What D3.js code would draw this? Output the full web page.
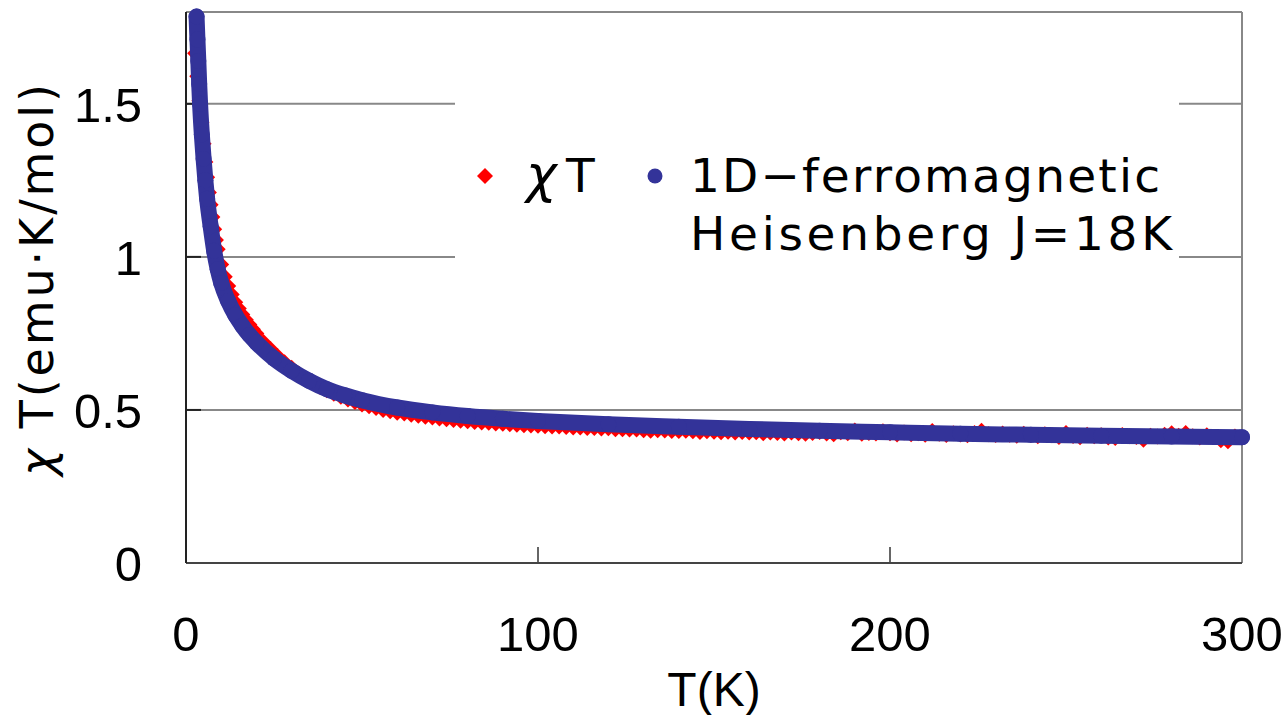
<!DOCTYPE html>
<html>
<head>
<meta charset="utf-8">
<script src="https://cdn.jsdelivr.net/npm/d3@7"></script>
<style>
  body { margin: 0; background: #fff; }
  text { font-family: "Liberation Sans", Arial, sans-serif; fill: #000; }
  .wide { font-family: "DejaVu Sans", sans-serif; }
</style>
</head>
<body>
<svg width="1288" height="715"></svg>
<script>
// measured chi*T (red diamonds)
var tempsObs = [2.6, 3.2, 3.8, 4.4, 5, 5.5, 6, 6.5, 7, 7.5, 8, 8.5, 9, 10, 11, 12, 13, 14, 15, 16, 17, 18, 19,
  20, 22, 24, 26, 28, 30, 32, 34, 36, 38, 40, 42, 44, 46, 48, 50, 52, 54, 56, 58,
  60, 62, 64, 66, 68, 70, 72, 74, 76, 78, 80, 82, 84, 86, 88, 90, 92, 94, 96, 98,
  100, 102, 104, 106, 108, 110, 112, 114, 116, 118, 120, 122, 124, 126, 128, 130, 132, 134, 136, 138,
  140, 142, 144, 146, 148, 150, 152, 154, 156, 158, 160, 162, 164, 166, 168, 170, 172, 174, 176, 178,
  180, 182, 184, 186, 188, 190, 192, 194, 196, 198, 200, 202, 204, 206, 208, 210, 212, 214, 216, 218,
  220, 222, 224, 226, 228, 230, 232, 234, 236, 238, 240, 242, 244, 246, 248, 250, 252, 254, 256, 258,
  260, 262, 264, 266, 268, 270, 272, 274, 276, 278, 280, 282, 284, 286, 288, 290, 292, 294, 296, 298]
var chiTObs = [1.665, 1.59, 1.51, 1.44, 1.37, 1.31, 1.26, 1.21, 1.17, 1.13, 1.09, 1.055, 1.025, 0.975, 0.935, 0.905, 0.877, 0.852, 0.831, 0.812, 0.795, 0.779, 0.764,
  0.750, 0.722, 0.699, 0.676, 0.656, 0.638, 0.619, 0.602, 0.588, 0.576, 0.564, 0.553, 0.543, 0.534, 0.526, 0.518, 0.512, 0.506, 0.500, 0.496,
  0.491, 0.488, 0.484, 0.481, 0.478, 0.475, 0.472, 0.470, 0.467, 0.465, 0.463, 0.461, 0.459, 0.458, 0.456, 0.455, 0.453, 0.452, 0.450, 0.449,
  0.448, 0.447, 0.446, 0.446, 0.444, 0.443, 0.443, 0.441, 0.441, 0.439, 0.440, 0.437, 0.437, 0.436, 0.436, 0.434, 0.432, 0.434, 0.433, 0.431,
  0.431, 0.432, 0.430, 0.428, 0.430, 0.429, 0.427, 0.429, 0.426, 0.428, 0.426, 0.427, 0.424, 0.426, 0.425, 0.423, 0.426, 0.424, 0.422, 0.425,
  0.428, 0.423, 0.421, 0.427, 0.424, 0.433, 0.422, 0.425, 0.423, 0.430, 0.424, 0.420, 0.426, 0.421, 0.424, 0.419, 0.431, 0.422, 0.418, 0.424,
  0.420, 0.417, 0.425, 0.432, 0.421, 0.418, 0.423, 0.419, 0.416, 0.422, 0.418, 0.414, 0.421, 0.417, 0.412, 0.425, 0.415, 0.411, 0.419, 0.414,
  0.417, 0.410, 0.408, 0.418, 0.414, 0.412, 0.403, 0.416, 0.413, 0.419, 0.424, 0.416, 0.425, 0.414, 0.410, 0.417, 0.412, 0.401, 0.398, 0.413]

// 1D ferromagnetic Heisenberg fit (blue circles)
var tempsFit = [3, 3.25, 3.5, 3.75, 4, 4.5, 5, 5.5, 6, 7, 8, 9, 10, 12, 14, 16, 18, 20, 25, 30, 35, 40, 45, 50,
  60, 70, 80, 90, 100, 120, 140, 160, 180, 200, 220, 240, 260, 280, 300]
var chiTFit = [1.785, 1.71, 1.64, 1.565, 1.50, 1.40, 1.32, 1.25, 1.19, 1.10, 1.02, 0.96, 0.915, 0.855, 0.81, 0.775, 0.745, 0.72, 0.668, 0.628, 0.595, 0.568, 0.548, 0.532,
  0.508, 0.492, 0.480, 0.471, 0.464, 0.453, 0.445, 0.438, 0.432, 0.427, 0.422, 0.419, 0.416, 0.413, 0.411]

var xTicks = [0, 100, 200, 300]
var yTicks = [0, 0.5, 1, 1.5]
var yTickLabels = ["0", "0.5", "1", "1.5"]

var svg = d3.select("svg")
var x = d3.scaleLinear().domain([0, 300]).range([186, 1242])
var y = d3.scaleLinear().domain([0, 1.8]).range([563, 12])

// gridlines + frame
svg.selectAll("line.grid")
  .data(yTicks.slice(1))
  .enter().append("line")
    .attr("x1", x(0)).attr("x2", x(300))
    .attr("y1", function(d) { return y(d) }).attr("y2", function(d) { return y(d) })
    .style("stroke", "#888").style("stroke-width", 2)
svg.append("line").attr("x1", x(0)).attr("x2", x(300)).attr("y1", y(1.8)).attr("y2", y(1.8))
  .style("stroke", "#888").style("stroke-width", 2)
svg.append("line").attr("x1", x(300)).attr("x2", x(300)).attr("y1", y(1.8)).attr("y2", y(0))
  .style("stroke", "#888").style("stroke-width", 2)

// x ticks inside
svg.selectAll("line.xt")
  .data(xTicks.slice(1, 3))
  .enter().append("line")
    .attr("x1", function(d) { return x(d) }).attr("x2", function(d) { return x(d) })
    .attr("y1", y(0)).attr("y2", y(0) - 16)
    .style("stroke", "#666").style("stroke-width", 2)
// y ticks inside
svg.selectAll("line.yt")
  .data(yTicks)
  .enter().append("line")
    .attr("x1", x(0)).attr("x2", x(0) + 15)
    .attr("y1", function(d) { return y(d) }).attr("y2", function(d) { return y(d) })
    .style("stroke", "#222").style("stroke-width", 2)

// axes lines
svg.append("line").attr("x1", x(0)).attr("x2", x(300)).attr("y1", y(0)).attr("y2", y(0))
  .style("stroke", "#444").style("stroke-width", 2)
svg.append("line").attr("x1", x(0)).attr("x2", x(0)).attr("y1", y(1.8)).attr("y2", y(0))
  .style("stroke", "#222").style("stroke-width", 2)

// tick labels
svg.selectAll("text.xl")
  .data(xTicks)
  .enter().append("text")
    .attr("x", function(d) { return x(d) })
    .attr("y", 651)
    .attr("text-anchor", "middle")
    .style("font-size", "49px")
    .text(function(d) { return d })
svg.selectAll("text.yl")
  .data(yTicks)
  .enter().append("text")
    .attr("x", 142)
    .attr("y", function(d) { return y(d) + 18 })
    .attr("text-anchor", "end")
    .style("font-size", "49px")
    .text(function(d, i) { return yTickLabels[i] })

// axis titles
svg.append("text")
  .attr("x", x(150)).attr("y", 706)
  .attr("text-anchor", "middle")
  .style("font-size", "48px")
  .text("T(K)")
var yt = svg.append("text")
  .attr("class", "wide")
  .attr("transform", "translate(53,476) rotate(-90)")
  .attr("textLength", 392)
  .style("font-size", "46px")
yt.append("tspan").style("font-style", "italic").text("χ")
yt.append("tspan").text(" T(emu·K/mol)")

// data
var diamond = function(h) { return "M0," + (-h) + "L" + h + ",0L0," + h + "L" + (-h) + ",0Z" }

svg.selectAll("path.obs")
  .data(tempsObs)
  .enter().append("path")
    .attr("d", diamond(8))
    .attr("transform", function(d, i) { return "translate(" + x(d) + "," + y(chiTObs[i]) + ")" })
    .style("fill", "#ff0000")

var fitLine = d3.line()
  .x(function(d, i) { return x(d) })
  .y(function(d, i) { return y(chiTFit[i]) })
  .curve(d3.curveMonotoneX)
svg.append("path")
  .attr("d", fitLine(tempsFit))
  .style("fill", "none").style("stroke", "#333399")
  .style("stroke-width", 16).style("stroke-linecap", "round").style("stroke-linejoin", "round")
svg.selectAll("circle.fit")
  .data(tempsFit)
  .enter().append("circle")
    .attr("cx", function(d) { return x(d) })
    .attr("cy", function(d, i) { return y(chiTFit[i]) })
    .attr("r", 8)
    .style("fill", "#333399")

// legend
var lg = svg.append("g")
lg.append("rect").attr("x", 455).attr("y", 96).attr("width", 724).attr("height", 168).style("fill", "#fff")
lg.append("path").attr("d", diamond(8)).attr("transform", "translate(485,176)").style("fill", "#ff0000")
lg.append("text").attr("class", "wide").attr("x", 526).attr("y", 192).style("font-size", "52px").style("font-style", "italic").text("χ")
lg.append("text").attr("class", "wide").attr("x", 566).attr("y", 192).style("font-size", "47px").text("T")
lg.append("circle").attr("cx", 655).attr("cy", 176).attr("r", 7.5).style("fill", "#333399")
lg.append("text").attr("class", "wide").attr("x", 690).attr("y", 192).attr("textLength", 470).style("font-size", "47px").text("1D−ferromagnetic")
lg.append("text").attr("class", "wide").attr("x", 690).attr("y", 250).attr("textLength", 482).style("font-size", "47px").text("Heisenberg J=18K")
</script>
</body>
</html>
